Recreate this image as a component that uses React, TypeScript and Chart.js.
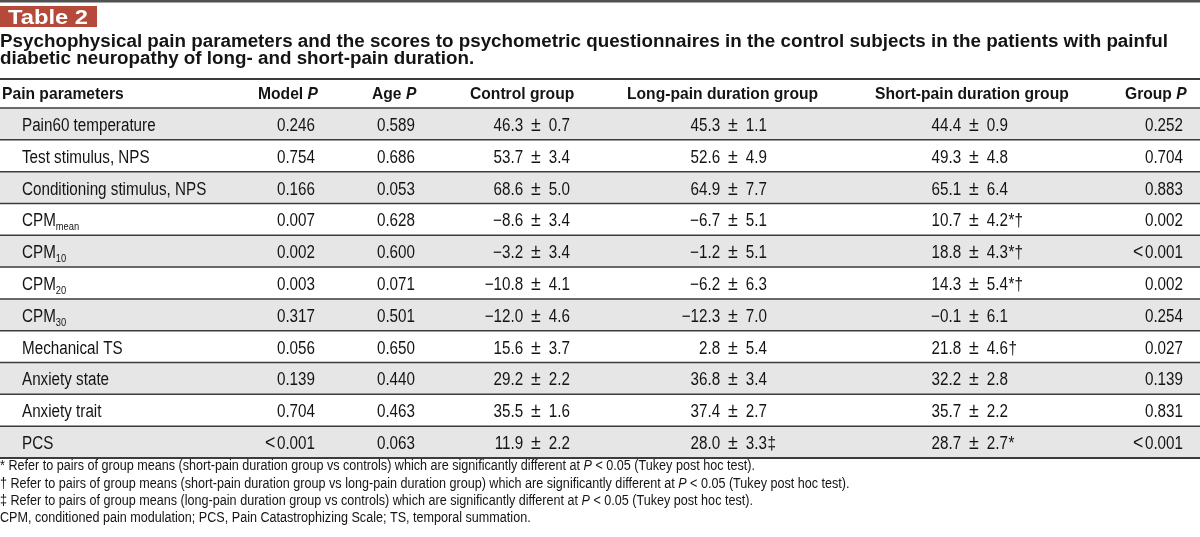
import React, { useEffect, useRef } from "react";
import { Chart, registerables } from "chart.js";
Chart.register(...registerables);

const tableLabel = "Table 2";
const captionLines = [
  "Psychophysical pain parameters and the scores to psychometric questionnaires in the control subjects in the patients with painful",
  "diabetic neuropathy of long- and short-pain duration.",
];
const headerTexts = ["Pain parameters", "Model ", "Age ", "Control group", "Long-pain duration group", "Short-pain duration group", "Group "];
const headerItalic = ["", "P", "P", "", "", "", "P"];

const paramNames = [
  "Pain60 temperature",
  "Test stimulus, NPS",
  "Conditioning stimulus, NPS",
  "CPM",
  "CPM",
  "CPM",
  "CPM",
  "Mechanical TS",
  "Anxiety state",
  "Anxiety trait",
  "PCS",
];
const paramSubscripts = ["", "", "", "mean", "10", "20", "30", "", "", "", ""];
const modelP = ["0.246", "0.754", "0.166", "0.007", "0.002", "0.003", "0.317", "0.056", "0.139", "0.704", "<0.001"];
const ageP = ["0.589", "0.686", "0.053", "0.628", "0.600", "0.071", "0.501", "0.650", "0.440", "0.463", "0.063"];
const controlMean = [46.3, 53.7, 68.6, -8.6, -3.2, -10.8, -12.0, 15.6, 29.2, 35.5, 11.9];
const controlSD = [0.7, 3.4, 5.0, 3.4, 3.4, 4.1, 4.6, 3.7, 2.2, 1.6, 2.2];
const longMean = [45.3, 52.6, 64.9, -6.7, -1.2, -6.2, -12.3, 2.8, 36.8, 37.4, 28.0];
const longSD = [1.1, 4.9, 7.7, 5.1, 5.1, 6.3, 7.0, 5.4, 3.4, 2.7, 3.3];
const longMarks = ["", "", "", "", "", "", "", "", "", "", "‡"];
const shortMean = [44.4, 49.3, 65.1, 10.7, 18.8, 14.3, -0.1, 21.8, 32.2, 35.7, 28.7];
const shortSD = [0.9, 4.8, 6.4, 4.2, 4.3, 5.4, 6.1, 4.6, 2.8, 2.2, 2.7];
const shortMarks = ["", "", "", "*†", "*†", "*†", "", "†", "", "", "*"];
const groupP = ["0.252", "0.704", "0.883", "0.002", "<0.001", "0.002", "0.254", "0.027", "0.139", "0.831", "<0.001"];

const footnotePre = [
  "* Refer to pairs of group means (short-pain duration group vs controls) which are significantly different at ",
  "† Refer to pairs of group means (short-pain duration group vs long-pain duration group) which are significantly different at ",
  "‡ Refer to pairs of group means (long-pain duration group vs controls) which are significantly different at ",
  "CPM, conditioned pain modulation; PCS, Pain Catastrophizing Scale; TS, temporal summation.",
];
const footnoteItalic = ["P", "P", "P", ""];
const footnotePost = [" < 0.05 (Tukey post hoc test).", " < 0.05 (Tukey post hoc test).", " < 0.05 (Tukey post hoc test).", ""];

const SANS = '"Liberation Sans", Arial, Helvetica, sans-serif';

function fmt(v: number): string {
  const s = v.toFixed(1);
  return s.startsWith("-") ? "\u2212" + s.slice(1) : s;
}

function measure(ctx: CanvasRenderingContext2D, s: string, font: string): number {
  ctx.save();
  ctx.font = font;
  const w = ctx.measureText(s).width;
  ctx.restore();
  return w;
}

function txt(
  ctx: CanvasRenderingContext2D,
  s: string,
  x: number,
  y: number,
  font: string,
  sx: number,
  align: "left" | "right" | "center" = "left",
  color = "#141414"
): number {
  ctx.save();
  ctx.font = font;
  const w = ctx.measureText(s).width * sx;
  const x0 = align === "right" ? x - w : align === "center" ? x - w / 2 : x;
  ctx.translate(x0, y);
  ctx.scale(sx, 1);
  ctx.textAlign = "left";
  ctx.textBaseline = "alphabetic";
  ctx.fillStyle = color;
  ctx.fillText(s, 0, 0);
  ctx.restore();
  return w;
}

function hline(ctx: CanvasRenderingContext2D, y: number, w: number, lw: number, color: string) {
  ctx.save();
  ctx.strokeStyle = color;
  ctx.lineWidth = lw;
  ctx.beginPath();
  ctx.moveTo(0, y);
  ctx.lineTo(w, y);
  ctx.stroke();
  ctx.restore();
}

const tablePlugin = {
  id: "tableDraw",
  afterDraw(chart: any) {
    const ctx: CanvasRenderingContext2D = chart.ctx;
    const W = chart.width;
    const yScale = chart.scales.y;
    const area = chart.chartArea;
    const n = paramNames.length;
    const rowH = (area.bottom - area.top) / n;

    // top rule
    ctx.save();
    ctx.fillStyle = "#505050";
    ctx.fillRect(0, 0, W, 2.5);
    ctx.restore();

    // badge
    ctx.save();
    ctx.fillStyle = "#b64a3a";
    ctx.fillRect(0, 6, 97, 21);
    ctx.restore();
    const badgeFont = `bold 20px ${SANS}`;
    const bsx = 80 / measure(ctx, tableLabel, badgeFont);
    txt(ctx, tableLabel, 8, 23.5, badgeFont, bsx, "left", "#ffffff");

    // caption
    const capFont = `bold 17.5px ${SANS}`;
    const csx = 1168 / measure(ctx, captionLines[0], capFont);
    txt(ctx, captionLines[0], 0, 47, capFont, csx);
    txt(ctx, captionLines[1], 0, 63.5, capFont, csx);

    hline(ctx, 79, W, 2, "#3a3a3a");

    // header
    const hFont = `bold 17px ${SANS}`;
    const hiFont = `italic bold 17px ${SANS}`;
    const hsx = 0.92;
    const headerX = [2, 258, 372, 470, 627, 875, 1125];
    headerTexts.forEach((h, i) => {
      const w = txt(ctx, h, headerX[i], 99, hFont, hsx);
      if (headerItalic[i]) txt(ctx, headerItalic[i], headerX[i] + w, 99, hiFont, hsx);
    });

    // row lines
    const lineColor = "#3c3c3c";
    for (let i = 0; i <= n; i++) {
      const y = i < n ? yScale.getPixelForValue(i) - rowH / 2 : yScale.getPixelForValue(n - 1) + rowH / 2;
      hline(ctx, y, W, i === n ? 2 : 1.5, lineColor);
    }

    // body
    const bFont = `18px ${SANS}`;
    const symFont = `21px ${SANS}`;
    const sFont = `11px ${SANS}`;
    const bsx2 = 0.845;
    const gap = 8;
    const pm = "\u00b1";
    const drawP = (s: string, xr: number, yb: number) => {
      if (s.startsWith("<")) {
        const w = txt(ctx, s.slice(1), xr, yb, bFont, bsx2, "right");
        txt(ctx, "<", xr - w - 1.5, yb, symFont, bsx2, "right");
      } else {
        txt(ctx, s, xr, yb, bFont, bsx2, "right");
      }
    };
    const drawMeanSD = (mean: number, sd: number, mark: string, xr: number, yb: number) => {
      const wsd = txt(ctx, fmt(sd), xr, yb, bFont, bsx2, "right");
      const xpm = xr - wsd - gap;
      const wpm = txt(ctx, pm, xpm, yb, symFont, bsx2, "right");
      txt(ctx, fmt(mean), xpm - wpm - gap, yb, bFont, bsx2, "right");
      if (mark) txt(ctx, mark, xr + 0.5, yb, bFont, bsx2, "left");
    };

    for (let i = 0; i < n; i++) {
      const yb = yScale.getPixelForValue(i) + 7;
      const w = txt(ctx, paramNames[i], 22, yb, bFont, bsx2);
      if (paramSubscripts[i]) txt(ctx, paramSubscripts[i], 22 + w, yb + 4, sFont, 0.85);
      drawP(modelP[i], 315, yb);
      drawP(ageP[i], 415, yb);
      drawMeanSD(controlMean[i], controlSD[i], "", 570, yb);
      drawMeanSD(longMean[i], longSD[i], longMarks[i], 767, yb);
      drawMeanSD(shortMean[i], shortSD[i], shortMarks[i], 1008, yb);
      drawP(groupP[i], 1183, yb);
    }

    // footnotes
    const fFont = `14px ${SANS}`;
    const fiFont = `italic 14px ${SANS}`;
    const w0 =
      measure(ctx, footnotePre[0], fFont) + measure(ctx, footnoteItalic[0], fiFont) + measure(ctx, footnotePost[0], fFont);
    const fsx = 755 / w0;
    const fy = [470, 487.5, 505, 522];
    footnotePre.forEach((pre, i) => {
      let x = 0;
      x += txt(ctx, pre, x, fy[i], fFont, fsx);
      if (footnoteItalic[i]) x += txt(ctx, footnoteItalic[i], x, fy[i], fiFont, fsx);
      if (footnotePost[i]) txt(ctx, footnotePost[i], x, fy[i], fFont, fsx);
    });
  },
};

export default function App() {
  const ref = useRef<HTMLCanvasElement | null>(null);
  useEffect(() => {
    document.body.style.margin = "0";
    const canvas = ref.current;
    if (!canvas) return;
    const shading = paramNames.map((_, i) => (i % 2 === 0 ? [0, 1] : null));
    const chart = new Chart(canvas, {
      type: "bar",
      data: {
        labels: paramNames.map((p, i) => p + paramSubscripts[i]),
        datasets: [
          {
            data: shading as any,
            backgroundColor: "#e6e6e6",
            borderWidth: 0,
            barPercentage: 1,
            categoryPercentage: 1,
          },
        ],
      },
      options: {
        indexAxis: "y",
        responsive: false,
        animation: false,
        devicePixelRatio: 1,
        layout: { padding: { top: 108, bottom: 79, left: 0, right: 0 } },
        plugins: { legend: { display: false }, tooltip: { enabled: false } },
        scales: {
          x: { type: "linear", min: 0, max: 1, display: false },
          y: { type: "category", display: false, offset: true },
        },
      },
      plugins: [tablePlugin],
    });
    return () => chart.destroy();
  }, []);
  return (
    <div style={{ width: 1200, height: 537, background: "#ffffff" }}>
      <canvas ref={ref} width={1200} height={537} style={{ display: "block" }} />
    </div>
  );
}
